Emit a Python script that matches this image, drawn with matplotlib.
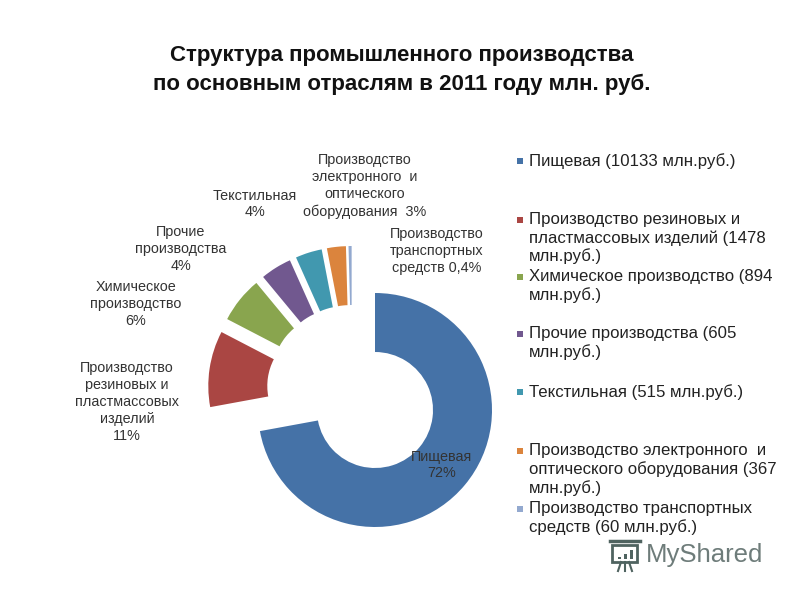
import numpy as np
import matplotlib
matplotlib.use('Agg')
import matplotlib.pyplot as plt

plt.rcParams['font.family'] = ['Liberation Sans', 'DejaVu Sans']

values = [10133, 1478, 894, 605, 515, 367, 60]
colors = ['#4572a7', '#aa4643', '#89a54e', '#71588f', '#4198af', '#db843d', '#93a9cf']
labels = ['Пищевая\n72%',
          'Производство\nрезиновых и\nпластмассовых\nизделий\n11%',
          'Химическое\nпроизводство\n6%',
          'Прочие\nпроизводства\n4%',
          'Текстильная\n4%',
          'Производство\nэлектронного  и\nоптического\nоборудования  3%',
          'Производство\nтранспортных\nсредств 0,4%']
label_pos = [(442, 465), (127, 402), (136, 304), (181, 249), (255, 204), (365, 186), (437, 251)]
legend_text = ['Пищевая (10133 млн.руб.)',
               'Производство резиновых и\nпластмассовых изделий (1478\nмлн.руб.)',
               'Химическое производство (894\nмлн.руб.)',
               'Прочие производства (605\nмлн.руб.)',
               'Текстильная (515 млн.руб.)',
               'Производство электронного  и\nоптического оборудования (367\nмлн.руб.)',
               'Производство транспортных\nсредств (60 млн.руб.)']
legend_y = [161, 220, 277, 334, 392, 451, 509]

fig = plt.figure(figsize=(8, 6), dpi=100)
ax = fig.add_axes([0, 0, 1, 1])
ax.set_xlim(0, 800)
ax.set_ylim(600, 0)
ax.axis('off')

# pie on its own square axes, sizes in pixels over half the axes width
half = 200
R = 117
cx, cy = 375, 410
pax = fig.add_axes([(cx - half) / 800, 1 - (cy + half) / 600, half * 2 / 800, half * 2 / 600])
explode = [0] + [27 / half] * 6
wedges, _ = pax.pie(values, colors=colors, startangle=90, counterclock=False, explode=explode,
                    radius=R / half, wedgeprops=dict(width=59 / half, linewidth=0))
pax.set_xlim(-1, 1)
pax.set_ylim(-1, 1)

# the small slices sit further up and left than a plain explode puts them
for w in wedges[1:]:
    w.set_center((w.center[0] - 23 / half, w.center[1] + 20 / half))

ax.text(402, 70, 'Структура промышленного производства\nпо основным отраслям в 2011 году млн. руб.',
        ha='center', va='center', fontsize=16, fontweight='bold', color='#111111', linespacing=1.43)

for s, (x, y) in zip(labels, label_pos):
    ax.text(x, y, s, ha='center', va='center', fontsize=10.4, color='#333333', linespacing=1.27, zorder=5)
ax.set_zorder(3)

for s, y, c in zip(legend_text, legend_y, colors):
    ax.add_patch(plt.Rectangle((517, y - 3), 6, 6, color=c, lw=0))
    ax.text(529, y - 8, s, ha='left', va='top', fontsize=12.1, color='#222222', linespacing=1.24)

# watermark with its small icon
mark = '#4f6360'
ax.add_patch(plt.Rectangle((612, 545), 25, 17, fill=False, ec=mark, lw=2))
ax.plot([610, 640], [541, 541], color=mark, lw=2.5)
ax.plot([621, 618], [562, 571], color=mark, lw=1.5)
ax.plot([625, 625], [562, 571], color=mark, lw=1.5)
ax.plot([629, 632], [562, 571], color=mark, lw=1.5)
ax.bar([619, 625, 631], [-2, -5, -9], width=3, bottom=[559, 559, 559], color=mark)
ax.set_xlim(0, 800)
ax.set_ylim(600, 0)
ax.text(646, 555, 'MyShared', ha='left', va='center', fontsize=18.5, color='#6e7c7a')

fig.savefig('out.png', dpi=100)
